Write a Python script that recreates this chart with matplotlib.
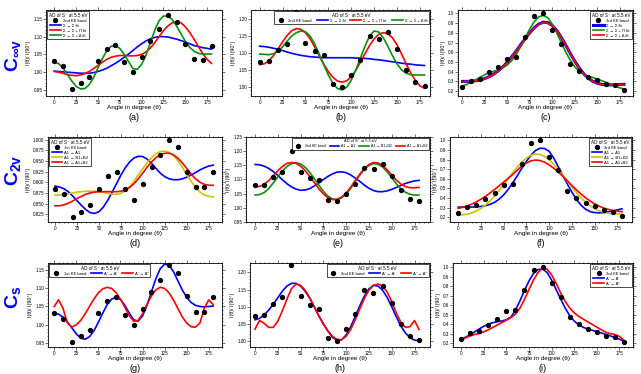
import numpy as np
import matplotlib.pyplot as plt
from matplotlib.ticker import MultipleLocator, AutoMinorLocator, FormatStrFormatter

plt.rcParams['font.family'] = ['Liberation Sans', 'DejaVu Sans']
plt.rcParams['mathtext.fontset'] = 'custom'
plt.rcParams['mathtext.rm'] = 'Liberation Sans'
plt.rcParams['mathtext.it'] = 'Liberation Sans:italic'
plt.rcParams['mathtext.bf'] = 'Liberation Sans:bold'

ang = np.arange(0, 181, 10)      # measured angles
ang_fit = np.arange(0, 181, 5)   # angles where the fit curves were read

# measured angular distributions (I(theta)/I(90))
band1 = [1.031, 1.017, 0.954, 0.969, 0.986, 1.031, 1.064, 1.076, 1.028, 1.001,
         1.043, 1.089, 1.122, 1.162, 1.140, 1.078, 1.036, 1.035, 1.075]
band1_d = [0.885, 0.873, 0.819, 0.831, 0.846, 0.885, 0.914, 0.924, 0.885, 0.859,
           0.895, 0.935, 0.963, 1.000, 0.982, 0.924, 0.890, 0.890, 0.924]
band2 = [1.072, 1.075, 1.108, 1.127, 1.220, 1.130, 1.105, 1.094, 1.009, 1.001,
         1.035, 1.079, 1.149, 1.140, 1.161, 1.111, 1.050, 1.014, 1.004]
band2_e = [1.080, 1.080, 1.108, 1.125, 1.201, 1.127, 1.106, 1.099, 1.028, 1.023,
           1.049, 1.085, 1.142, 1.136, 1.153, 1.111, 1.063, 1.032, 1.025]
band3 = [0.245, 0.303, 0.327, 0.393, 0.450, 0.533, 0.550, 0.757, 0.971, 1.000,
         0.831, 0.688, 0.477, 0.403, 0.343, 0.313, 0.270, 0.259, 0.212]

# fits, C_inf_v
a_ss = [1.003, 1.002, 1.001, 1.000, 0.999, 0.998, 0.997, 0.997, 0.997, 0.999,
        1.002, 1.006, 1.011, 1.018, 1.025, 1.033, 1.042, 1.051, 1.061, 1.071,
        1.080, 1.088, 1.094, 1.098, 1.100, 1.100, 1.099, 1.096, 1.093, 1.089,
        1.085, 1.080, 1.075, 1.072, 1.069, 1.067, 1.065]
a_pi = [1.002, 1.000, 0.997, 0.993, 0.991, 0.990, 0.992, 0.996, 1.002, 1.010,
        1.019, 1.028, 1.036, 1.042, 1.045, 1.047, 1.047, 1.046, 1.046, 1.047,
        1.050, 1.057, 1.068, 1.083, 1.100, 1.117, 1.130, 1.139, 1.142, 1.139,
        1.128, 1.112, 1.093, 1.072, 1.052, 1.036, 1.025]
a_de = [1.028, 1.024, 1.012, 0.994, 0.975, 0.960, 0.953, 0.954, 0.965, 0.985,
        1.012, 1.038, 1.060, 1.073, 1.075, 1.067, 1.050, 1.030, 1.010, 1.008,
        1.022, 1.048, 1.083, 1.118, 1.145, 1.158, 1.158, 1.148, 1.130, 1.108,
        1.087, 1.070, 1.059, 1.053, 1.051, 1.051, 1.051]
b_ss = [1.120, 1.119, 1.117, 1.114, 1.111, 1.107, 1.103, 1.099, 1.096, 1.093,
        1.091, 1.089, 1.088, 1.087, 1.086, 1.086, 1.086, 1.086, 1.086, 1.086,
        1.086, 1.085, 1.085, 1.084, 1.083, 1.081, 1.080, 1.078, 1.076, 1.074,
        1.072, 1.070, 1.068, 1.067, 1.065, 1.064, 1.063]
b_pi = [1.066, 1.068, 1.077, 1.092, 1.112, 1.133, 1.152, 1.166, 1.172, 1.170,
        1.160, 1.142, 1.118, 1.092, 1.067, 1.045, 1.028, 1.017, 1.014, 1.018,
        1.030, 1.049, 1.073, 1.098, 1.122, 1.142, 1.155, 1.160, 1.157, 1.145,
        1.124, 1.097, 1.068, 1.041, 1.019, 1.003, 0.996]
b_de = [1.097, 1.096, 1.095, 1.098, 1.105, 1.118, 1.135, 1.150, 1.160, 1.165,
        1.163, 1.150, 1.127, 1.097, 1.065, 1.035, 1.010, 0.995, 0.991, 0.999,
        1.020, 1.050, 1.085, 1.120, 1.150, 1.165, 1.162, 1.145, 1.120, 1.092,
        1.068, 1.050, 1.040, 1.036, 1.035, 1.035, 1.035]
c_ss = [0.300, 0.300, 0.302, 0.307, 0.316, 0.330, 0.350, 0.377, 0.410, 0.450,
        0.500, 0.555, 0.615, 0.680, 0.742, 0.800, 0.852, 0.890, 0.910, 0.905,
        0.875, 0.825, 0.755, 0.675, 0.590, 0.510, 0.440, 0.380, 0.335, 0.302,
        0.282, 0.270, 0.265, 0.264, 0.266, 0.268, 0.270]
c_pi = [0.250, 0.270, 0.292, 0.318, 0.345, 0.370, 0.390, 0.405, 0.420, 0.440,
        0.470, 0.515, 0.580, 0.660, 0.750, 0.840, 0.915, 0.965, 0.980, 0.955,
        0.890, 0.800, 0.700, 0.605, 0.520, 0.452, 0.405, 0.375, 0.355, 0.340,
        0.325, 0.308, 0.290, 0.270, 0.252, 0.235, 0.222]
c_de = [0.298, 0.299, 0.301, 0.306, 0.315, 0.329, 0.349, 0.376, 0.409, 0.449,
        0.498, 0.553, 0.612, 0.676, 0.738, 0.796, 0.848, 0.886, 0.905, 0.901,
        0.872, 0.822, 0.753, 0.673, 0.589, 0.509, 0.439, 0.379, 0.334, 0.301,
        0.281, 0.269, 0.264, 0.263, 0.265, 0.267, 0.269]

# fits, C2v
d_a1 = [0.891, 0.889, 0.885, 0.878, 0.868, 0.857, 0.846, 0.836, 0.829, 0.827,
        0.831, 0.842, 0.858, 0.877, 0.897, 0.917, 0.934, 0.948, 0.957, 0.961,
        0.960, 0.954, 0.944, 0.932, 0.921, 0.913, 0.908, 0.906, 0.906, 0.908,
        0.912, 0.917, 0.923, 0.929, 0.934, 0.938, 0.940]
d_b = [0.870, 0.870, 0.871, 0.873, 0.875, 0.877, 0.878, 0.879, 0.879, 0.879,
       0.878, 0.876, 0.874, 0.872, 0.872, 0.874, 0.880, 0.890, 0.903, 0.918,
       0.932, 0.946, 0.958, 0.967, 0.972, 0.973, 0.970, 0.962, 0.950, 0.935,
       0.918, 0.902, 0.888, 0.877, 0.870, 0.867, 0.866]
d_ab = [0.845, 0.845, 0.847, 0.851, 0.856, 0.862, 0.867, 0.872, 0.875, 0.877,
        0.878, 0.878, 0.878, 0.878, 0.878, 0.879, 0.882, 0.888, 0.897, 0.909,
        0.922, 0.936, 0.948, 0.958, 0.965, 0.968, 0.968, 0.964, 0.956, 0.945,
        0.932, 0.919, 0.908, 0.900, 0.895, 0.893, 0.893]
e_a1 = [1.153, 1.152, 1.147, 1.139, 1.128, 1.114, 1.099, 1.085, 1.074, 1.066,
        1.062, 1.063, 1.068, 1.077, 1.088, 1.100, 1.111, 1.120, 1.126, 1.127,
        1.124, 1.116, 1.105, 1.093, 1.080, 1.069, 1.061, 1.057, 1.057, 1.060,
        1.065, 1.072, 1.079, 1.086, 1.091, 1.095, 1.097]
e_b = [1.045, 1.047, 1.054, 1.068, 1.088, 1.110, 1.130, 1.146, 1.156, 1.159,
       1.155, 1.143, 1.125, 1.103, 1.080, 1.058, 1.041, 1.031, 1.029, 1.035,
       1.049, 1.069, 1.093, 1.116, 1.136, 1.150, 1.156, 1.154, 1.144, 1.127,
       1.106, 1.085, 1.067, 1.055, 1.048, 1.045, 1.045]
e_ab = [1.074, 1.076, 1.083, 1.096, 1.113, 1.131, 1.146, 1.157, 1.160, 1.157,
        1.147, 1.131, 1.111, 1.089, 1.067, 1.049, 1.036, 1.029, 1.030, 1.038,
        1.053, 1.073, 1.096, 1.119, 1.139, 1.153, 1.160, 1.158, 1.149, 1.134,
        1.116, 1.098, 1.084, 1.075, 1.071, 1.071, 1.072]
f_a1 = [0.305, 0.305, 0.305, 0.306, 0.308, 0.312, 0.320, 0.333, 0.355, 0.388,
        0.433, 0.490, 0.558, 0.633, 0.710, 0.782, 0.845, 0.895, 0.918, 0.915,
        0.885, 0.815, 0.725, 0.635, 0.545, 0.460, 0.385, 0.325, 0.283, 0.258,
        0.248, 0.245, 0.248, 0.256, 0.266, 0.277, 0.287]
f_b = [0.222, 0.225, 0.232, 0.245, 0.265, 0.292, 0.327, 0.370, 0.420, 0.476,
       0.537, 0.600, 0.663, 0.722, 0.774, 0.816, 0.845, 0.858, 0.853, 0.833,
       0.798, 0.751, 0.696, 0.636, 0.574, 0.513, 0.455, 0.403, 0.357, 0.319,
       0.289, 0.266, 0.250, 0.240, 0.235, 0.233, 0.233]
f_ab = [0.292, 0.303, 0.318, 0.337, 0.360, 0.387, 0.418, 0.452, 0.489, 0.527,
        0.566, 0.605, 0.645, 0.690, 0.732, 0.765, 0.787, 0.795, 0.790, 0.772,
        0.745, 0.710, 0.670, 0.625, 0.578, 0.530, 0.484, 0.441, 0.402, 0.368,
        0.338, 0.314, 0.295, 0.281, 0.270, 0.263, 0.258]

# fits, Cs
g_a = [1.032, 1.029, 1.021, 1.008, 0.992, 0.976, 0.964, 0.961, 0.968, 0.984,
       1.007, 1.032, 1.055, 1.070, 1.075, 1.069, 1.053, 1.032, 1.014, 1.010,
       1.024, 1.053, 1.089, 1.125, 1.152, 1.165, 1.162, 1.145, 1.120, 1.095,
       1.075, 1.061, 1.053, 1.050, 1.049, 1.050, 1.051]
g_aa = [1.050, 1.068, 1.045, 1.005, 0.994, 1.000, 1.012, 1.030, 1.050, 1.070,
        1.087, 1.098, 1.102, 1.099, 1.088, 1.070, 1.048, 1.025, 1.010, 1.012,
        1.030, 1.055, 1.078, 1.095, 1.102, 1.099, 1.087, 1.068, 1.045, 1.022,
        1.005, 0.995, 0.994, 1.005, 1.045, 1.068, 1.055]
h_a = [1.062, 1.066, 1.076, 1.090, 1.107, 1.126, 1.145, 1.160, 1.168, 1.168,
       1.160, 1.145, 1.125, 1.100, 1.074, 1.050, 1.029, 1.011, 1.002, 1.004,
       1.018, 1.042, 1.072, 1.103, 1.131, 1.152, 1.162, 1.160, 1.148, 1.127,
       1.100, 1.071, 1.044, 1.024, 1.010, 1.003, 1.001]
h_aa = [1.035, 1.060, 1.052, 1.040, 1.040, 1.058, 1.088, 1.122, 1.152, 1.166,
        1.162, 1.148, 1.126, 1.100, 1.073, 1.050, 1.030, 1.014, 1.005, 1.004,
        1.014, 1.034, 1.062, 1.094, 1.124, 1.148, 1.162, 1.166, 1.160, 1.143,
        1.115, 1.082, 1.055, 1.040, 1.042, 1.060, 1.034]
i_a = [0.240, 0.262, 0.288, 0.318, 0.348, 0.377, 0.400, 0.415, 0.425, 0.433,
       0.445, 0.475, 0.545, 0.645, 0.755, 0.855, 0.935, 0.976, 0.982, 0.945,
       0.865, 0.765, 0.665, 0.570, 0.490, 0.432, 0.392, 0.366, 0.348, 0.334,
       0.320, 0.306, 0.291, 0.275, 0.258, 0.240, 0.222]
i_aa = [0.232, 0.255, 0.275, 0.290, 0.300, 0.318, 0.340, 0.365, 0.390, 0.415,
        0.440, 0.468, 0.505, 0.568, 0.660, 0.765, 0.865, 0.945, 0.990, 0.980,
        0.920, 0.830, 0.730, 0.640, 0.570, 0.520, 0.482, 0.452, 0.424, 0.396,
        0.368, 0.340, 0.314, 0.298, 0.290, 0.270, 0.228]

lab_s = ['Σ → Σ fit', 'Σ → Σ + Π fit', 'Σ → Σ + Δ fit']
lab_c2v = ['A1 → A1', 'A1 → B1+B2', 'A1 → A1+B2']
lab_cs = ["A′ → A′", "A′ → A″"]
title = 'AD of S⁻ at 5.5 eV'

BLUE, RED, GREEN, YEL = '#0000ff', '#ff0000', '#0a8f0a', '#c8c400'

W, H = 641, 374
fig = plt.figure(figsize=(W / 100, H / 100), dpi=100)


def panel(box, dots, band, fits, ylim, ystep, yfmt, xlim, tag, loc, ncol, lfs=3.0):
    x0, x1, y0, y1 = box
    ax = fig.add_axes([x0 / W, 1 - y1 / H, (x1 - x0) / W, (y1 - y0) / H])
    ax.plot(ang, dots, 'o', color='black', ms=2.8, zorder=4, label=band)
    for vals, col, lab, lw in fits:
        ax.plot(ang_fit, vals, color=col, lw=lw, label=lab)
    ax.set_xlim(xlim)
    ax.set_ylim(ylim)
    ax.xaxis.set_major_locator(MultipleLocator(25))
    ax.xaxis.set_minor_locator(AutoMinorLocator(5))
    ax.yaxis.set_major_locator(MultipleLocator(ystep))
    ax.yaxis.set_minor_locator(AutoMinorLocator(5))
    ax.yaxis.set_major_formatter(FormatStrFormatter(yfmt))
    ax.tick_params(which='both', direction='out', top=True, right=True,
                   labelsize=3.3, width=0.4, pad=0.6)
    ax.tick_params(which='major', length=2)
    ax.tick_params(which='minor', length=1)
    for s in ax.spines.values():
        s.set_linewidth(0.6)
    ax.set_xlabel('Angle in degree (θ)', fontsize=4.6, labelpad=0)
    ax.set_ylabel('I(θ)/ I(90°)', fontsize=3.8, labelpad=1.5)
    ax.annotate(tag, xy=(0.5, 0), xycoords='axes fraction', xytext=(0, -15.6),
                textcoords='offset points', ha='center', va='center', fontsize=6.5)
    leg = ax.legend(loc=loc, ncol=ncol, title=title, fontsize=lfs, title_fontsize=lfs + 0.3,
                    frameon=True, fancybox=False, edgecolor='black', framealpha=1,
                    borderaxespad=0.3, labelspacing=0.25, handlelength=2.6,
                    handletextpad=0.5, columnspacing=1.2, borderpad=0.35)
    leg.get_frame().set_linewidth(0.5)
    leg.set_zorder(10)
    return ax


lw = 1.2
# row 1: C_inf_v
panel((46, 222, 10, 96), band1, '2nd KE band',
      [(a_ss, BLUE, lab_s[0], lw), (a_pi, RED, lab_s[1], lw), (a_de, GREEN, lab_s[2], lw)],
      (0.933, 1.175), 0.05, '%.2f', (-9.5, 192), '(a)', 'upper left', 1)
panel((251, 430, 10, 96), band2, '2nd KE band',
      [(b_ss, BLUE, lab_s[0], lw), (b_pi, RED, lab_s[1], lw), (b_de, GREEN, lab_s[2], lw)],
      (0.973, 1.227), 0.05, '%.2f', (-9.5, 186), '(b)', 'upper right', 4)
panel((458, 633, 10, 96), band3, '3rd KE band',
      [(c_ss, BLUE, lab_s[0], 2.2), (c_pi, GREEN, lab_s[1], lw), (c_de, RED, lab_s[2], lw)],
      (0.15, 1.035), 0.1, '%.1f', (-5, 190), '(c)', 'upper right', 1)

# row 2: C2v
panel((48, 222, 137, 222), band1_d, '1st KE band',
      [(d_a1, BLUE, lab_c2v[0], lw), (d_b, YEL, lab_c2v[1], lw), (d_ab, RED, lab_c2v[2], lw)],
      (0.807, 1.006), 0.025, '%.3f', (-8, 190), '(d)', 'upper left', 1)
panel((246, 430, 137, 222), band2_e, '2nd KE band',
      [(e_a1, BLUE, lab_c2v[0], lw), (e_b, GREEN, lab_c2v[1], lw), (e_ab, RED, lab_c2v[2], lw)],
      (0.95, 1.25), 0.05, '%.2f', (-10, 192), '(e)', 'upper right', 4, lfs=2.6)
panel((450, 632, 137, 222), band3, '3rd KE band',
      [(f_a1, BLUE, lab_c2v[0], lw), (f_b, YEL, lab_c2v[1], lw), (f_ab, RED, lab_c2v[2], lw)],
      (0.15, 1.035), 0.1, '%.1f', (-9, 191), '(f)', 'upper right', 1)

# row 3: Cs
panel((48, 222, 263, 347), band1, '1st KE band',
      [(g_a, BLUE, lab_cs[0], lw), (g_aa, RED, lab_cs[1], lw)],
      (0.94, 1.168), 0.05, '%.2f', (-7, 190), '(g)', 'upper left', 3)
panel((250, 430, 263, 347), band2, '2nd KE band',
      [(h_a, BLUE, lab_cs[0], lw), (h_aa, RED, lab_cs[1], lw)],
      (0.983, 1.227), 0.05, '%.2f', (-5.5, 192), '(h)', 'upper right', 3)
panel((453, 633, 263, 347), band3, '3rd KE band',
      [(i_a, BLUE, lab_cs[0], lw), (i_aa, RED, lab_cs[1], lw)],
      (0.158, 1.045), 0.1, '%.1f', (-9, 190), '(i)', 'upper right', 1)

# point groups on the left
for txt, yp in [(r'$\mathbf{C_{\infty v}}$', 55), (r'$\mathbf{C_{2v}}$', 170), (r'$\mathbf{C_s}$', 297)]:
    fig.text(13 / W, 1 - yp / H, txt, color=BLUE, fontsize=14, rotation=90,
             ha='center', va='center')

fig.savefig('out.png', dpi=100)
